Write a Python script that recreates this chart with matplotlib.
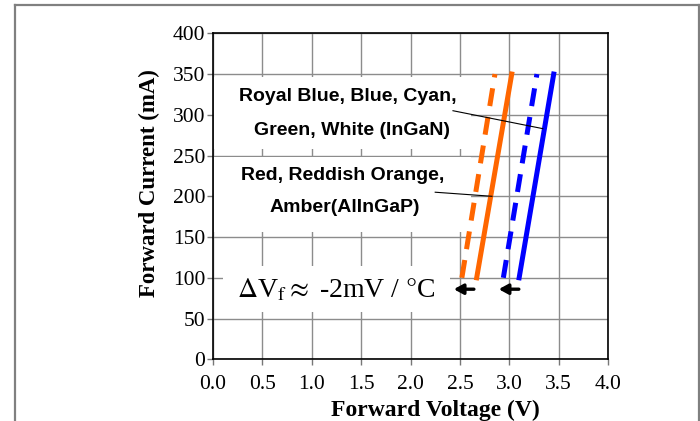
import matplotlib
matplotlib.use("Agg")
import matplotlib.pyplot as plt
from matplotlib.lines import Line2D
from matplotlib.patches import Rectangle

# forward voltage (V) at 100 mA and 350 mA for each curve
current_ma = [100, 350]
amber_hot = [2.52, 2.855]
amber_cold = [2.67, 3.025]
ingan_hot = [2.94, 3.28]
ingan_cold = [3.10, 3.45]

x_ticks = [0.0, 0.5, 1.0, 1.5, 2.0, 2.5, 3.0, 3.5, 4.0]
x_tick_labels = ["0.0", "0.5", "1.0", "1.5", "2.0", "2.5", "3.0", "3.5", "4.0"]
y_ticks = [0, 50, 100, 150, 200, 250, 300, 350, 400]

# temperature shift arrows (from, to) at the arrow height
arrow_y = 86
amber_shift = (2.67, 2.41)
ingan_shift = (3.125, 2.865)

ORANGE = "#ff6600"
BLUE = "#0000ff"
serif = "Liberation Serif"
sans = "Liberation Sans"

fig = plt.figure(figsize=(7.0, 4.21), dpi=100)
ax = fig.add_axes([0.3043, 0.1466, 0.5643, 0.7743])

ax.set_xlim(0, 4.0)
ax.set_ylim(0, 400)
ax.set_xticks(x_ticks)
ax.set_xticklabels(x_tick_labels)
ax.set_yticks(y_ticks)
ax.grid(True, color="#8c8c8c", linewidth=1.0, zorder=0)
ax.set_axisbelow(True)
ax.tick_params(direction="out", length=4, width=1, color="#777777",
               labelsize=15.5)
ax.tick_params(axis="y", pad=1.5)
ax.tick_params(axis="x", pad=7)
for lab in ax.get_xticklabels() + ax.get_yticklabels():
    lab.set_fontfamily(serif)
for sp in ax.spines.values():
    sp.set_color("black")
    sp.set_linewidth(1.2)

ax.set_xlabel("Forward Voltage (V)", fontfamily=serif, fontweight="bold",
              fontsize=17)
ax.set_ylabel("Forward Current (mA)", fontfamily=serif, fontweight="bold",
              fontsize=16.5)
ax.xaxis.set_label_coords(0.562, -0.125)
ax.yaxis.set_label_coords(-0.135, 0.541)

# white boxes behind the annotation texts
for x0, y0, w, h in [(0.01, 258, 2.6, 88), (0.01, 156, 2.6, 92), (0.1, 58, 2.3, 56)]:
    ax.add_patch(Rectangle((x0, y0), w, h, facecolor="white", edgecolor="none",
                           zorder=1))

ax.plot(amber_hot, current_ma, color=ORANGE, linewidth=3.6,
        dashes=(3.6, 2.2), zorder=3)
ax.plot(amber_cold, current_ma, color=ORANGE, linewidth=3.6, zorder=3)
ax.plot(ingan_hot, current_ma, color=BLUE, linewidth=3.6,
        dashes=(3.6, 2.2), zorder=3)
ax.plot(ingan_cold, current_ma, color=BLUE, linewidth=3.6, zorder=3)

for x_from, x_to in [amber_shift, ingan_shift]:
    ax.annotate("", xy=(x_to, arrow_y), xytext=(x_from, arrow_y),
                arrowprops=dict(arrowstyle="-|>,head_length=0.55,head_width=0.3",
                                color="black", lw=2.4), zorder=4)

txt = dict(fontfamily=sans, fontweight="bold", fontsize=14,
           ha="center", va="center", zorder=4)
ax.text(1.367, 322, "Royal Blue, Blue, Cyan,", **txt)
ax.text(1.408, 281, "Green, White (InGaN)", **txt)
ax.text(1.312, 226, "Red, Reddish Orange,", **txt)
ax.text(1.337, 186, "Amber(AlInGaP)", **txt)
ax.text(1.246, 85, r"$\Delta$V$_\mathrm{f}$$\approx$ -2mV / $\degree$C",
        fontfamily=serif, fontsize=20, ha="center", va="center", zorder=4,
        math_fontfamily="stix")

# leader lines from labels to curves
ax.plot([2.43, 3.34], [305, 283], color="black", linewidth=0.8, zorder=4)
ax.plot([2.25, 2.825], [205, 200], color="black", linewidth=0.8, zorder=4)

# outer page frame
frame = dict(color="#808080", linewidth=1.6, transform=fig.transFigure)
fig.add_artist(Line2D([15 / 700, 15 / 700], [0, 1 - 5 / 421], **frame))
fig.add_artist(Line2D([15 / 700, 698.5 / 700], [1 - 5 / 421, 1 - 5 / 421], **frame))
fig.add_artist(Line2D([698.5 / 700, 698.5 / 700], [0, 1 - 5 / 421], **frame))

fig.savefig("out.png", dpi=100)
